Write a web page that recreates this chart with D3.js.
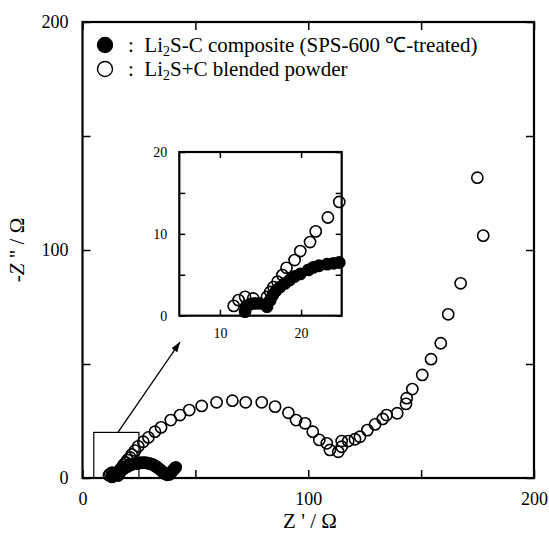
<!DOCTYPE html>
<html><head><meta charset="utf-8">
<script src="https://cdn.jsdelivr.net/npm/d3@7"></script>
<style>
body{margin:0;background:#fff;}
svg text{font-family:"Liberation Serif","Times New Roman",serif;fill:#000;}
</style></head>
<body><svg id="c" width="549" height="539"></svg>
<script>
// ---- data ----
const xTicks = [0, 50, 100, 150, 200];
const xTickLabels = ["0", "", "100", "", "200"];
const yTicks = [0, 50, 100, 150, 200];
const yTickLabels = ["0", "", "100", "", "200"];
const insetXTicks = [10, 20];
const insetYTicks = [0, 5, 10, 15, 20];
const insetYTickLabels = ["0", "", "10", "", "20"];

const blendedZre = [11.7,12.3,13.1,14.1,15.8,16.2,16.6,17.1,17.7,18.2,19.2,19.9,21.1,21.8,23.3,24.7,26.9,29.2,32.1,34.8,39.1,43.2,47.3,52.8,59.4,66.4,72.3,79.4,85.3,91.2,94.6,98.6,102,104.9,108.2,109.6,113.3,114.8,114.8,117.7,120.7,122.9,126.2,129.6,133,134.7,139.4,143.3,143.6,146.1,150.5,154.4,158.7,162,167.5,177.5,174.9];
const blendedZim = [1.2,1.9,2.3,2.1,2.3,2.9,3.5,4.15,4.96,5.85,6.8,7.9,9.0,10.3,12.0,13.9,15.9,17.8,20.3,22.2,25.4,27.6,29.8,31.6,33.2,33.9,33.2,33.2,31.3,28.6,25.4,24,20.3,16.7,15.2,12.3,11.5,13.7,16.2,16.2,17,18.1,21,23.5,25.9,27.6,28.4,32.5,35,39,45.2,52.1,59.1,71.8,85.4,106.3,131.7];

const compositeZre = [13.1,13.2,13.7,14.3,14.9,15.8,16.2,16.5,16.9,17.4,18.0,18.6,19.2,19.9,20.9,21.5,22.2,23.2,24.0,24.7,25.5,26.5,27.5,28.5,29.5,30.5,31.5,32.5,33.5,34.5,35.5,36.5,37.5,38.5,39.3,40.0,40.7,41.3];
const compositeZim = [0.5,1.1,1.4,1.5,1.5,1.1,1.9,2.5,3.05,3.5,3.95,4.35,4.8,5.1,5.6,5.9,6.1,6.3,6.4,6.5,6.6,6.7,6.7,6.6,6.4,6.1,5.7,5.1,4.4,3.6,2.7,1.9,1.4,1.6,2.4,3.3,4.1,4.7];

const zoomBoxX = [5, 25];
const zoomBoxY = [0, 20];
const arrowFrom = [15.7, 20];
const arrowTo = [43.2, 59.6];

// ---- layout ----
const svg = d3.select("#c");
const x = d3.scaleLinear().domain([0, 200]).range([82.5, 534]);
const y = d3.scaleLinear().domain([0, 200]).range([478, 22]);
const R = 5.6;

svg.append("defs").append("marker").attr("id","ah").attr("viewBox","0 0 10 10")
  .attr("refX",10).attr("refY",5).attr("markerWidth",10).attr("markerHeight",10)
  .attr("markerUnits","userSpaceOnUse").attr("orient","auto")
  .append("path").attr("d","M0,1.5L10,5L0,8.5Z").attr("fill","#000");

function axes(g, xs, ys, xt, xl, yt, yl, tick, fs) {
  const [x0, x1] = xs.range(), [y0, y1] = ys.range();
  g.append("g").attr("transform", `translate(0,${y0})`)
    .call(d3.axisBottom(xs).tickValues(xt).tickSizeInner(-tick).tickSizeOuter(0).tickPadding(tick + 6).tickFormat((d, i) => xl[i]))
    .call(a => { a.select(".domain").remove(); a.selectAll("text").attr("font-size", fs); });
  g.append("g").attr("transform", `translate(0,${y1})`)
    .call(d3.axisTop(xs).tickValues(xt).tickSizeInner(-tick).tickSizeOuter(0).tickFormat(""))
    .call(a => a.select(".domain").remove());
  g.append("g").attr("transform", `translate(${x0},0)`)
    .call(d3.axisLeft(ys).tickValues(yt).tickSizeInner(-tick).tickSizeOuter(0).tickPadding(tick + 6).tickFormat((d, i) => yl[i]))
    .call(a => { a.select(".domain").remove(); a.selectAll("text").attr("font-size", fs); });
  g.append("g").attr("transform", `translate(${x1},0)`)
    .call(d3.axisRight(ys).tickValues(yt).tickSizeInner(-tick).tickSizeOuter(0).tickFormat(""))
    .call(a => a.select(".domain").remove());
  g.selectAll(".tick line").attr("stroke", "#000").attr("stroke-width", 1.5);
  g.append("rect").attr("x", x0).attr("y", y1).attr("width", x1 - x0).attr("height", y0 - y1)
    .attr("fill", "none").attr("stroke", "#000").attr("stroke-width", 2.2);
}

const main = svg.append("g");
axes(main, x, y, xTicks, xTickLabels, yTicks, yTickLabels, 8, 18);

// zoom box + arrow
main.append("rect").attr("x", x(zoomBoxX[0])).attr("y", y(zoomBoxY[1]))
  .attr("width", x(zoomBoxX[1]) - x(zoomBoxX[0])).attr("height", y(zoomBoxY[0]) - y(zoomBoxY[1]))
  .attr("fill", "none").attr("stroke", "#000").attr("stroke-width", 1.2);
main.append("line").attr("x1", x(arrowFrom[0])).attr("y1", y(arrowFrom[1]))
  .attr("x2", x(arrowTo[0])).attr("y2", y(arrowTo[1]))
  .attr("stroke", "#000").attr("stroke-width", 1.3).attr("marker-end", "url(#ah)");

const blended = blendedZre.map((v, i) => [v, blendedZim[i]]);
const composite = compositeZre.map((v, i) => [v, compositeZim[i]]);

function drawPts(g, xs, ys, pts, filled) {
  g.append("g").selectAll("circle").data(pts).join("circle")
    .attr("cx", d => xs(d[0])).attr("cy", d => ys(d[1])).attr("r", R)
    .attr("fill", filled ? "#000" : "none").attr("stroke", "#000").attr("stroke-width", 1.6);
}
drawPts(main, x, y, blended, false);
drawPts(main, x, y, composite, true);

// axis titles
main.append("text").attr("x", 310).attr("y", 528).attr("text-anchor", "middle").attr("font-size", 21)
  .text("Z ' / Ω");
const yt = main.append("text").attr("transform", "translate(24,250) rotate(-90)").attr("text-anchor", "middle").attr("font-size", 21);
yt.append("tspan").text("-");
yt.append("tspan").attr("font-style", "italic").text("Z");
yt.append("tspan").text(" \" / Ω");

// legend
const leg = main.append("g");
const legRows = [
  {filled: true, parts: [":  Li", "2", "S-C composite (SPS-600 ℃-treated)"]},
  {filled: false, parts: [":  Li", "2", "S+C blended powder"]}
];
legRows.forEach((r, i) => {
  const cy = 45 + i * 24;
  leg.append("circle").attr("cx", 105).attr("cy", cy).attr("r", 7.5)
    .attr("fill", r.filled ? "#000" : "none").attr("stroke", "#000").attr("stroke-width", 1.4);
  const t = leg.append("text").attr("x", 128).attr("y", cy + 7).attr("font-size", 21)
    .style("white-space", "pre");
  t.append("tspan").text(r.parts[0]);
  t.append("tspan").attr("font-size", 14).attr("dy", 4).text(r.parts[1]);
  t.append("tspan").attr("dy", -4).text(r.parts[2]);
});

// inset
const ix = d3.scaleLinear().domain([5, 25]).range([179.3, 341.7]);
const iy = d3.scaleLinear().domain([0, 20]).range([315.7, 152]);
const ins = svg.append("g");
ins.append("rect").attr("x", 179.3).attr("y", 152).attr("width", 162.4).attr("height", 163.7).attr("fill", "#fff");
axes(ins, ix, iy, insetXTicks, ["10", "20"], insetYTicks, insetYTickLabels, 6, 14);
drawPts(ins, ix, iy, blended.filter(d => d[0] <= 25), false);
drawPts(ins, ix, iy, composite.filter(d => d[0] <= 25), true);
</script></body></html>
